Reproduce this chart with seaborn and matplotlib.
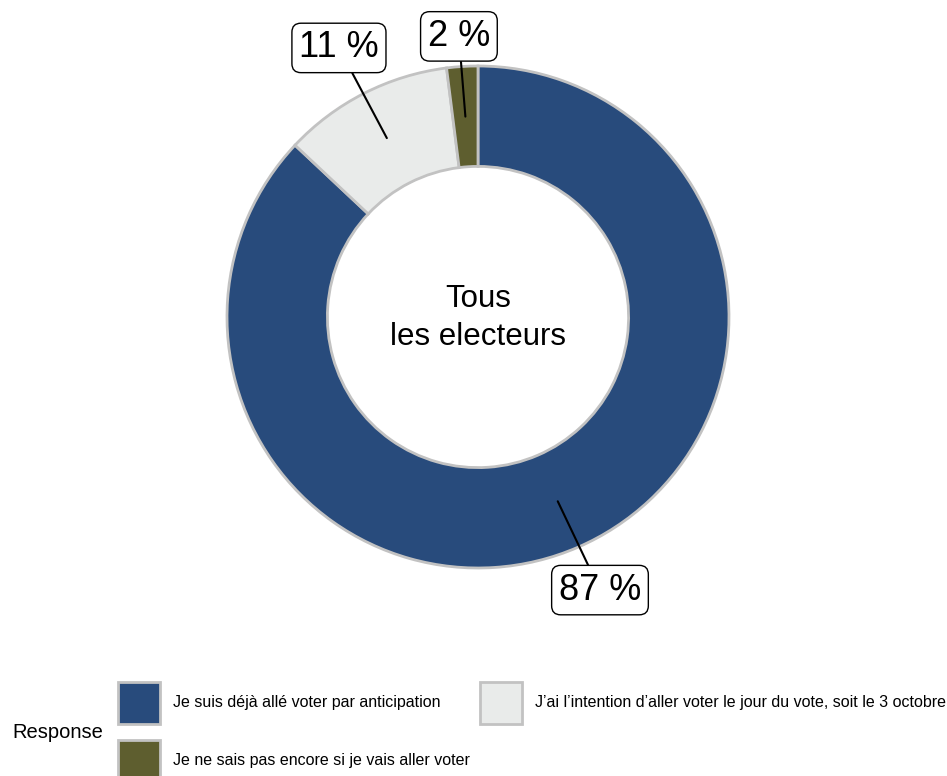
import matplotlib
matplotlib.use('Agg')
import matplotlib.pyplot as plt
import seaborn as sns
from matplotlib.patches import Patch
import numpy as np

# Data
responses = [
    "Je suis déjà allé voter par anticipation",
    "J’ai l’intention d’aller voter le jour du vote, soit le 3 octobre",
    "Je ne sais pas encore si je vais aller voter",
]
shares = [87, 11, 2]
pct_labels = ["87 %", "11 %", "2 %"]
center_label = "Tous\nles electeurs"
legend_title = "Response"

colors = ["#284b7c", "#e9ebea", "#5e5e2f"]
edge_grey = "#c2c2c2"

sns.set_theme(style="white")
plt.rcParams['font.family'] = ['Liberation Sans', 'DejaVu Sans']
plt.rcParams['text.color'] = 'black'

W, H = 947, 776
fig = plt.figure(figsize=(W / 100, H / 100), dpi=100)

# donut: centre (478, 317) px, outer radius 251 px
cx, cy, R = 478, 317, 251
ax = fig.add_axes([(cx - R) / W, (H - cy - R) / H, 2 * R / W, 2 * R / H])

wedges, _ = ax.pie(shares, colors=colors, startangle=90, counterclock=False,
                   radius=1, wedgeprops=dict(width=0.4, edgecolor=edge_grey, linewidth=2))
ax.set_xlim(-1, 1)
ax.set_ylim(-1, 1)
ax.axis('off')

ax.text(0, -0.005, center_label, ha='center', va='center', fontsize=22.5,
        linespacing=1.35, color='black')

# label box positions (data units relative to donut)
box_pos = [(0.486, -1.088), (-0.554, 1.072), (-0.076, 1.118)]
for w, lab, pos in zip(wedges, pct_labels, box_pos):
    ang = np.deg2rad((w.theta1 + w.theta2) / 2)
    xy = (0.8 * np.cos(ang), 0.8 * np.sin(ang))
    ax.annotate(lab, xy=xy, xytext=pos, ha='center', va='center', fontsize=26,
                annotation_clip=False, color='black',
                bbox=dict(boxstyle='round,pad=0.2,rounding_size=0.25', fc='white', ec='black', lw=1),
                arrowprops=dict(arrowstyle='-', color='black', lw=1.5, shrinkA=0, shrinkB=0))

# legend: row 1 blue / grey, row 2 olive
handles = [Patch(facecolor=c, edgecolor=edge_grey, linewidth=2) for c in colors]
order = [0, 2, 1]
fig.legend([handles[i] for i in order], [responses[i] for i in order],
           loc='upper left', bbox_to_anchor=(118 / W, 1 - 682 / H), ncol=2,
           frameon=False, fontsize=11.5, handlelength=2.63, handleheight=3.67,
           handletextpad=0.82, columnspacing=0.63, labelspacing=1.0,
           borderpad=0, borderaxespad=0)
fig.text(103 / W, 1 - 732 / H, legend_title, ha='right', va='center', fontsize=14.5, color='black')

fig.savefig('out.png', dpi=100)
